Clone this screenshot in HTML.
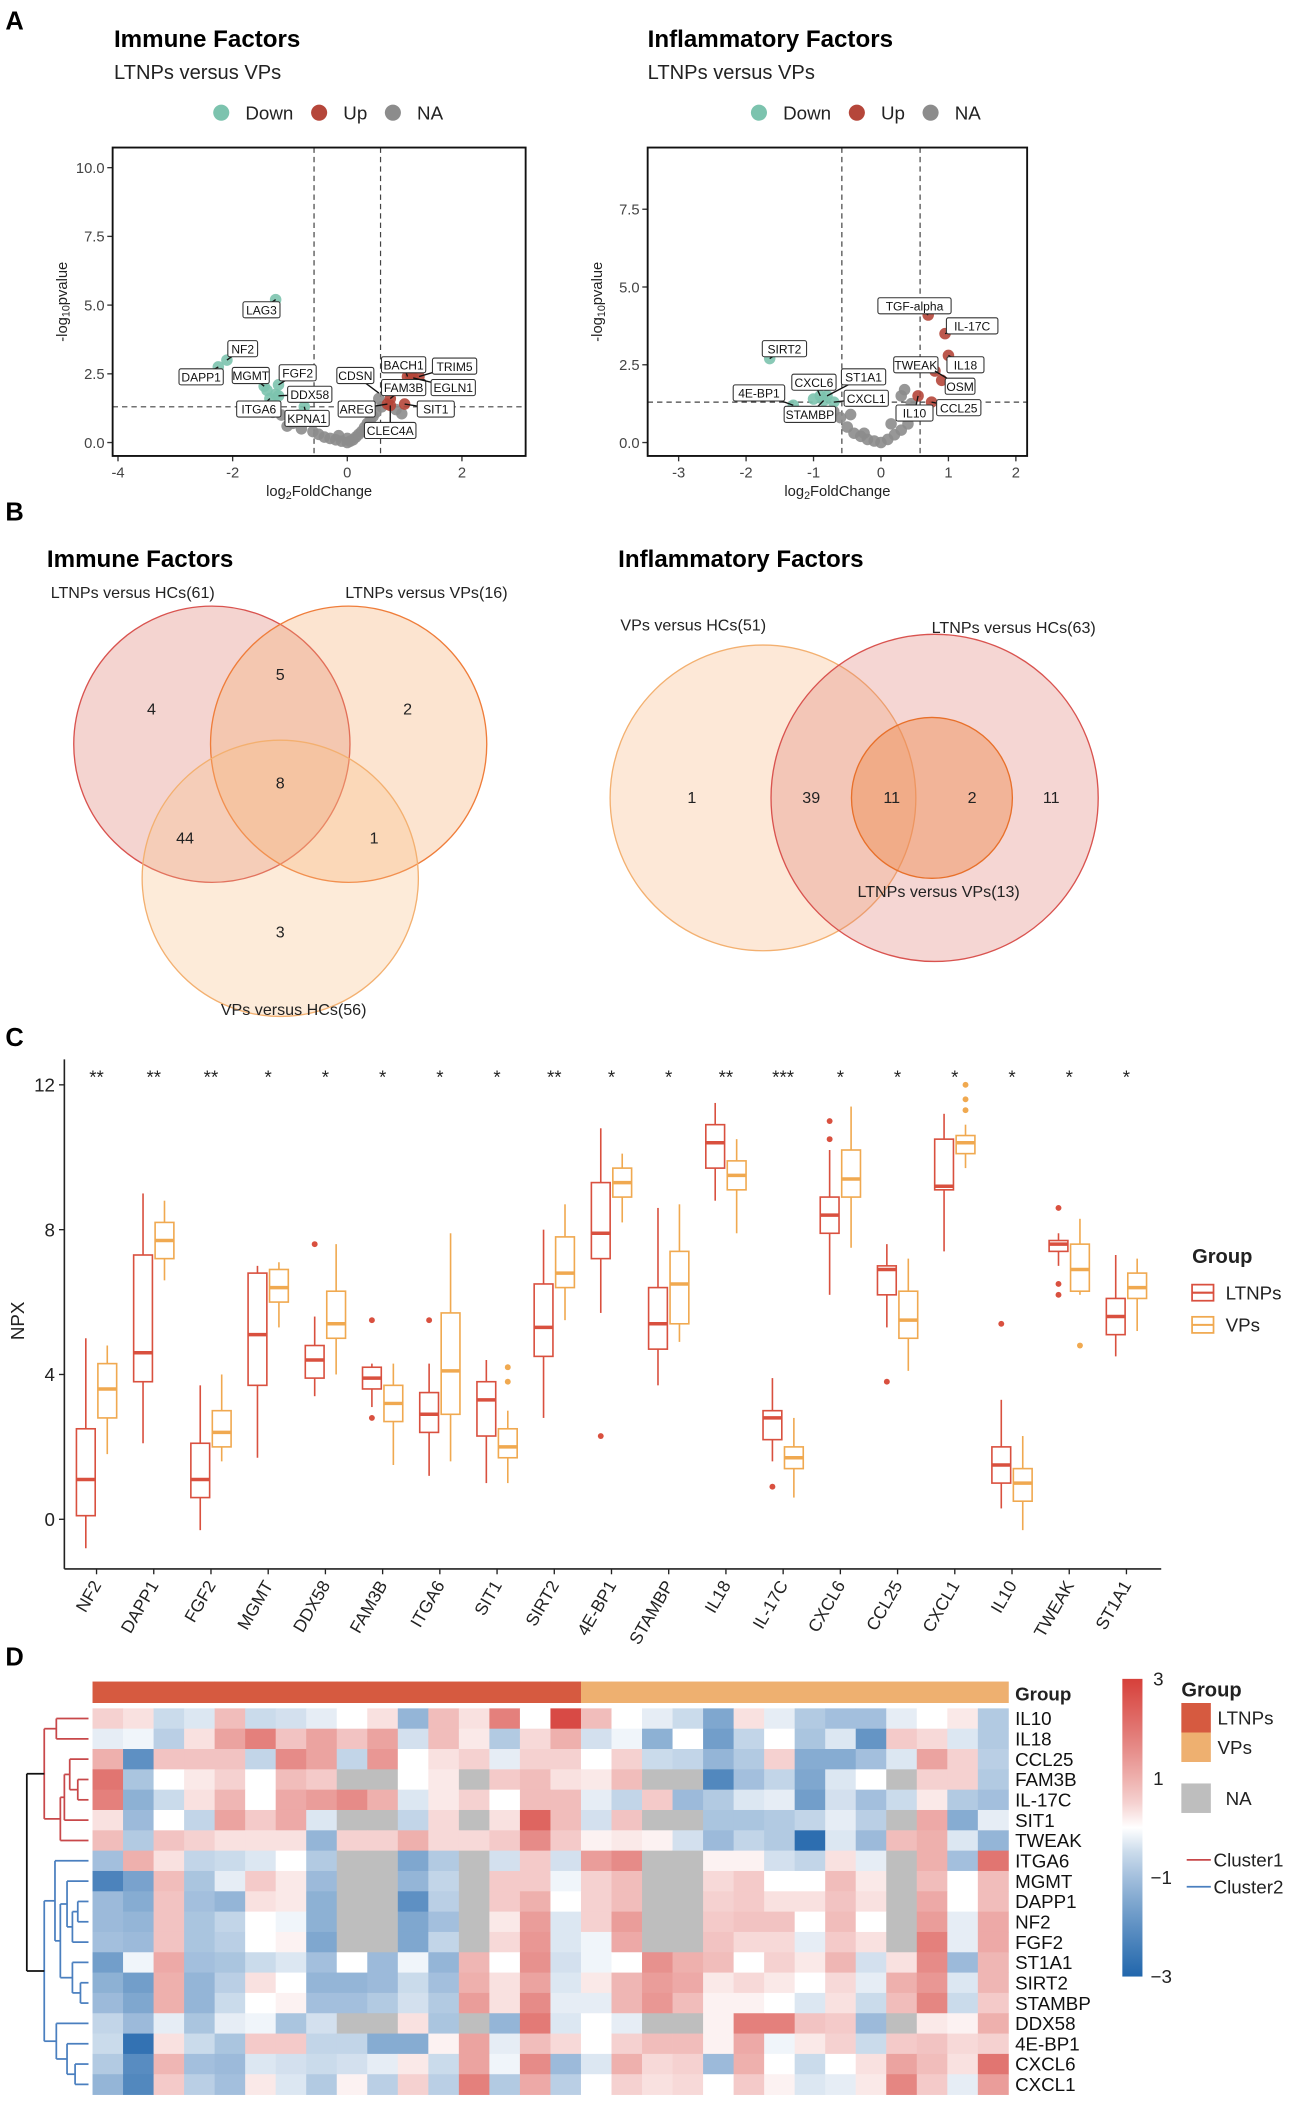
<!DOCTYPE html>
<html><head><meta charset="utf-8"><style>
html,body{margin:0;padding:0;background:#fff}
svg{display:block;font-family:"Liberation Sans",Arial,sans-serif}
</style></head><body>
<svg id="fig" width="1298" height="2108" viewBox="0 0 968 1572" xmlns="http://www.w3.org/2000/svg">
<g id="A">
<text x="4" y="22" font-size="19" font-weight="bold">A</text>
<text x="85" y="35" font-size="18" font-weight="bold">Immune Factors</text>
<text x="85" y="59" font-size="15" fill="#222">LTNPs versus VPs</text>
<text x="483" y="35" font-size="18" font-weight="bold">Inflammatory Factors</text>
<text x="483" y="59" font-size="15" fill="#222">LTNPs versus VPs</text>
</g>
<g id="B">
<text x="4" y="388" font-size="19" font-weight="bold">B</text>
<text x="35" y="423" font-size="18" font-weight="bold">Immune Factors</text>
<text x="461" y="423" font-size="18" font-weight="bold">Inflammatory Factors</text>
<circle cx="158" cy="555" r="103" fill="rgba(222,120,110,0.32)" stroke="#d9534f" stroke-width="1"/>
<circle cx="260" cy="555" r="103" fill="rgba(246,170,110,0.32)" stroke="#ef7d3a" stroke-width="1"/>
<circle cx="209" cy="655" r="103" fill="rgba(248,190,130,0.3)" stroke="#f3b070" stroke-width="1"/>
<g font-size="12" text-anchor="middle" fill="#222">
<text x="99" y="446">LTNPs versus HCs(61)</text>
<text x="318" y="446">LTNPs versus VPs(16)</text>
<text x="219" y="757">VPs versus HCs(56)</text>
<text x="113" y="533">4</text><text x="209" y="507">5</text><text x="304" y="533">2</text>
<text x="209" y="588">8</text><text x="138" y="629">44</text><text x="279" y="629">1</text><text x="209" y="699">3</text>
</g>
<circle cx="569" cy="595" r="114" fill="rgba(248,190,140,0.35)" stroke="#f3b070" stroke-width="1"/>
<circle cx="697" cy="595" r="122" fill="rgba(222,120,110,0.3)" stroke="#d9534f" stroke-width="1"/>
<circle cx="695" cy="595" r="60" fill="rgba(240,140,80,0.45)" stroke="#e8702a" stroke-width="1"/>
<g font-size="12" text-anchor="middle" fill="#222">
<text x="517" y="470">VPs versus HCs(51)</text>
<text x="756" y="472">LTNPs versus HCs(63)</text>
<text x="700" y="669">LTNPs versus VPs(13)</text>
<text x="516" y="599">1</text><text x="605" y="599">39</text><text x="665" y="599">11</text><text x="725" y="599">2</text><text x="784" y="599">11</text>
</g>
</g>
<g id="C">
<text x="4" y="780" font-size="19" font-weight="bold">C</text>
</g>
<g id="D">
<text x="4" y="1242" font-size="19" font-weight="bold">D</text>
</g>
</svg>
<script>
var NS="http://www.w3.org/2000/svg";
var svg=document.getElementById('fig');
function mk(tag,attrs,parent,txt){var e=document.createElementNS(NS,tag);for(var k in attrs)e.setAttribute(k,attrs[k]);if(txt!==undefined)e.textContent=txt;(parent||svg).appendChild(e);return e;}

/* ---------- Panel A data ---------- */
var immDownX=[-1.25,-2.1,-2.25,-1.45,-1.2,-1.2,-1.35,-0.75,-1.4,-1.25];
var immDownY=[5.2,3.0,2.75,2.05,2.1,1.7,1.6,1.3,1.9,1.75];
var immUpX=[1.05,1.25,1.15,0.75,0.7,0.75,1.0,1.1];
var immUpY=[2.4,2.4,2.35,1.6,1.4,1.35,1.4,2.45];
var immNaX=[-1.05,-0.95,-0.85,-0.6,-0.5,-0.4,-0.3,-0.2,-0.1,0,0.05,0.1,0.15,0.2,0.25,0.3,0.35,0.4,0.45,0.5,0.55,-1.3,-1.15,0.95,0.6,0.85,-0.8,-0.65,-0.15,0.0];
var immNaY=[0.6,0.7,1.0,0.4,0.3,0.2,0.15,0.1,0.05,0.0,0.05,0.1,0.2,0.3,0.4,0.55,0.7,0.8,0.95,1.1,1.6,1.1,1.0,1.05,1.3,1.2,0.5,0.8,0.25,0.15];
var immLabels=["LAG3","NF2","DAPP1","MGMT","FGF2","DDX58","ITGA6","KPNA1","CDSN","BACH1","TRIM5","FAM3B","EGLN1","AREG","SIT1","CLEC4A"];
var immLabX=[-1.25,-2.1,-2.25,-1.45,-1.2,-1.2,-1.35,-0.75,0.55,1.05,1.25,0.75,1.15,0.7,1.0,0.75];
var immLabY=[5.2,3.0,2.75,2.05,2.1,1.7,1.6,1.3,1.8,2.4,2.4,1.6,2.35,1.4,1.4,1.35];
var immBoxPos=[[195,231],[181,260],[150,281],[187,280],[222,278],[231,294],[193,305],[229,312],[265,280],[301,272],[339,273],[301,289],[338,289],[266,305],[325,305],[291,321]];

var infDownX=[-1.65,-0.9,-1.3,-0.8,-0.7,-0.85,-1.0];
var infDownY=[2.7,1.5,1.2,1.5,1.3,1.35,1.4];
var infUpX=[0.7,0.95,1.0,0.8,0.7,0.75,0.55,0.9];
var infUpY=[4.1,3.5,2.8,2.3,2.5,1.3,1.5,2.0];
var infNaX=[-0.5,-0.4,-0.3,-0.2,-0.1,0,0.1,0.2,0.3,0.4,0.5,-0.6,-0.7,0.35,0.6,0.45,-0.45,0.15,0.3,-0.25];
var infNaY=[0.5,0.3,0.2,0.1,0.05,0,0.1,0.25,0.4,0.6,0.9,0.8,1.0,1.7,1.0,1.25,0.9,0.6,1.5,0.3];
var infLabels=["TGF-alpha","IL-17C","SIRT2","TWEAK","IL18","ST1A1","CXCL6","OSM","4E-BP1","CXCL1","CCL25","STAMBP","IL10"];
var infLabX=[0.7,0.95,-1.65,0.7,1.0,-0.8,-0.9,0.8,-1.3,-0.7,0.75,-0.85,0.55];
var infLabY=[4.1,3.5,2.7,2.5,2.8,1.5,1.5,2.3,1.2,1.3,1.3,1.35,1.5];
var infBoxPos=[[682,228],[725,243],[585,260],[683,272],[720,272],[644,281],[607,285],[716,288],[566,293],[646,297],[715,304],[604,309],[682,308]];

function volcano(c){
  var g=mk('g',{});
  
  
  var sx=function(v){return c.x0+(v-c.xv0)*c.kx;};
  var sy=function(v){return c.y0-v*c.ky;};
  var lg=[["Down","#7cc3ae"],["Up","#b5463a"],["NA","#8c8c8c"]];
  var lx=c.legX;
  for(var i=0;i<3;i++){
    var cc=mk('circle',{cx:lx[i],cy:84,r:6,fill:lg[i][1]},g);
    
    
    var t=mk('text',{x:lx[i]+18,y:89,'font-size':14,fill:'#222'},g,lg[i][0]);
    
    
  }
  c.yt.forEach(function(v){
    var y=sy(v);
    mk('line',{x1:c.bx-4,x2:c.bx,y1:y,y2:y,stroke:'#333'},g);
    var t=mk('text',{x:c.bx-6,y:y+4,'font-size':11,'text-anchor':'end',fill:'#444'},g,v.toFixed(1));
    
    
  });
  c.xt.forEach(function(v){
    var x=sx(v);
    mk('line',{x1:x,x2:x,y1:c.by2,y2:c.by2+4,stroke:'#333'},g);
    var t=mk('text',{x:x,y:c.by2+16,'font-size':11,'text-anchor':'middle',fill:'#444'},g,v);
    
    
  });
  var yl=mk('text',{transform:'translate('+(c.bx-34)+','+((c.by1+c.by2)/2)+') rotate(-90)','font-size':11,'text-anchor':'middle',fill:'#222'},g);
  yl.innerHTML='-log<tspan font-size="8" dy="2">10</tspan><tspan dy="-2">pvalue</tspan>';
  
  
  var xl=mk('text',{x:(c.bx+c.bx2)/2,y:c.by2+30,'font-size':11,'text-anchor':'middle',fill:'#222'},g);
  xl.innerHTML='log<tspan font-size="8" dy="2">2</tspan><tspan dy="-2">FoldChange</tspan>';
  
  
  [-0.58,0.58].forEach(function(v){mk('line',{x1:sx(v),x2:sx(v),y1:c.by1,y2:c.by2,stroke:'#444','stroke-dasharray':'4,3','stroke-width':0.9},g);});
  mk('line',{x1:c.bx,x2:c.bx2,y1:sy(1.3),y2:sy(1.3),stroke:'#444','stroke-dasharray':'4,3','stroke-width':0.9},g);
  function pts(X,Y,col,nm){for(var i=0;i<X.length;i++){var p=mk('circle',{cx:sx(X[i]),cy:sy(Y[i]),r:4.3,fill:col,'fill-opacity':0.9},g);}}
  pts(c.naX,c.naY,'#8c8c8c','point-na');
  pts(c.dX,c.dY,'#7cc3ae','point-down');
  pts(c.uX,c.uY,'#b5463a','point-up');
  for(var i=0;i<c.labels.length;i++){
    var bp=c.boxPos[i];
    var w=c.labels[i].length*5.4+6;
    mk('line',{x1:sx(c.lx[i]),y1:sy(c.ly[i]),x2:bp[0],y2:bp[1],stroke:'#111','stroke-width':1},g);
    mk('rect',{x:bp[0]-w/2,y:bp[1]-6,width:w,height:12,rx:1.5,fill:'#fff',stroke:'#333','stroke-width':0.8},g);
    var t=mk('text',{x:bp[0],y:bp[1]+3.5,'font-size':9,'text-anchor':'middle',fill:'#111'},g,c.labels[i]);
    
    
  }
  mk('rect',{x:c.bx,y:c.by1,width:c.bx2-c.bx,height:c.by2-c.by1,fill:'none',stroke:'#111','stroke-width':1.4},g);
}
volcano({name:'immune-volcano',legX:[165,238,293],bx:84,bx2:392,by1:110,by2:340,x0:259,xv0:0,kx:42.75,y0:330,ky:20.5,yt:[0,2.5,5,7.5,10],xt:[-4,-2,0,2],
 dX:immDownX,dY:immDownY,uX:immUpX,uY:immUpY,naX:immNaX,naY:immNaY,labels:immLabels,lx:immLabX,ly:immLabY,boxPos:immBoxPos});
volcano({name:'inflam-volcano',legX:[566,639,694],bx:483,bx2:766,by1:110,by2:340,x0:657,xv0:0,kx:50.3,y0:330,ky:23.2,yt:[0,2.5,5,7.5],xt:[-3,-2,-1,0,1,2],
 dX:infDownX,dY:infDownY,uX:infUpX,uY:infUpY,naX:infNaX,naY:infNaY,labels:infLabels,lx:infLabX,ly:infLabY,boxPos:infBoxPos});

/* ---------- Panel C data ---------- */
var cats=["NF2","DAPP1","FGF2","MGMT","DDX58","FAM3B","ITGA6","SIT1","SIRT2","4E-BP1","STAMBP","IL18","IL-17C","CXCL6","CCL25","CXCL1","IL10","TWEAK","ST1A1"];
var stars=["**","**","**","*","*","*","*","*","**","*","*","**","***","*","*","*","*","*","*"];
var ltnpStats=[[-0.8,0.1,1.1,2.5,5.0],[2.1,3.8,4.6,7.3,9.0],[-0.3,0.6,1.1,2.1,3.7],[1.7,3.7,5.1,6.8,7.0],[3.4,3.9,4.4,4.8,5.6],[3.1,3.6,3.9,4.2,4.3],[1.2,2.4,2.9,3.5,4.3],[1.0,2.3,3.3,3.8,4.4],[2.8,4.5,5.3,6.5,8.0],[5.7,7.2,7.9,9.3,10.8],[3.7,4.7,5.4,6.4,8.6],[8.8,9.7,10.4,10.9,11.5],[1.6,2.2,2.8,3.0,3.9],[6.2,7.9,8.4,8.9,10.2],[5.3,6.2,6.9,7.0,7.6],[7.4,9.1,9.2,10.5,11.2],[0.3,1.0,1.5,2.0,3.3],[7.0,7.4,7.6,7.7,7.9],[4.5,5.1,5.6,6.1,7.3]];
var vpStats=[[1.8,2.8,3.6,4.3,4.8],[6.6,7.2,7.7,8.2,8.8],[1.6,2.0,2.4,3.0,4.0],[5.3,6.0,6.4,6.9,7.1],[4.0,5.0,5.4,6.3,7.6],[1.5,2.7,3.2,3.7,4.3],[1.6,2.9,4.1,5.7,7.9],[1.0,1.7,2.0,2.5,3.0],[5.5,6.4,6.8,7.8,8.7],[8.2,8.9,9.3,9.7,10.1],[4.9,5.4,6.5,7.4,8.7],[7.9,9.1,9.5,9.9,10.5],[0.6,1.4,1.7,2.0,2.8],[7.5,8.9,9.4,10.2,11.4],[4.1,5.0,5.5,6.3,7.2],[9.7,10.1,10.4,10.6,10.9],[-0.3,0.5,1.0,1.4,2.3],[6.2,6.3,6.9,7.6,8.3],[5.2,6.1,6.4,6.8,7.2]];
var ltnpOutIdx=[4,5,5,6,9,12,13,13,14,16,17,17,17];
var ltnpOutVal=[7.6,2.8,5.5,5.5,2.3,0.9,11.0,10.5,3.8,5.4,8.6,6.2,6.5];
var vpOutIdx=[7,7,15,15,15,17];
var vpOutVal=[3.8,4.2,11.3,11.6,12.0,4.8];
var npxTicks=[0,4,8,12];

(function(){
  var g=mk('g',{});
  
  
  var X0=72,DX=42.67,Y0=1133,KY=27;
  var sx=function(i){return X0+i*DX;}, sy=function(v){return Y0-v*KY;};
  mk('line',{x1:48,x2:48,y1:790,y2:1170,stroke:'#222','stroke-width':1.2},g);
  mk('line',{x1:48,x2:866,y1:1170,y2:1170,stroke:'#222','stroke-width':1.2},g);
  npxTicks.forEach(function(v){
    mk('line',{x1:44,x2:48,y1:sy(v),y2:sy(v),stroke:'#222'},g);
    var t=mk('text',{x:41,y:sy(v)+5,'font-size':14,'text-anchor':'end',fill:'#222'},g,v);
    
    
  });
  var yt=mk('text',{transform:'translate(18,985) rotate(-90)','font-size':14,'text-anchor':'middle',fill:'#222'},g,'NPX');
  
  
  function box(st,x,col,nm){
    var bw=14;
    mk('line',{x1:x,x2:x,y1:sy(st[0]),y2:sy(st[1]),stroke:col,'stroke-width':1.2},g);
    mk('line',{x1:x,x2:x,y1:sy(st[3]),y2:sy(st[4]),stroke:col,'stroke-width':1.2},g);
    var r=mk('rect',{x:x-bw/2,y:sy(st[3]),width:bw,height:sy(st[1])-sy(st[3]),fill:'#fff',stroke:col,'stroke-width':1.2},g);
    
    
    mk('line',{x1:x-bw/2,x2:x+bw/2,y1:sy(st[2]),y2:sy(st[2]),stroke:col,'stroke-width':2.6},g);
  }
  for(var i=0;i<cats.length;i++){
    var x=sx(i);
    mk('line',{x1:x,x2:x,y1:1170,y2:1174,stroke:'#222'},g);
    box(ltnpStats[i],x-8,'#d9503f','box-ltnps-'+cats[i].toLowerCase());
    box(vpStats[i],x+8,'#f0a950','box-vps-'+cats[i].toLowerCase());
    var t=mk('text',{transform:'translate('+(x+4)+',1182) rotate(-60)','font-size':13,'text-anchor':'end',fill:'#222'},g,cats[i]);
    
    
    var s=mk('text',{x:x,y:808,'font-size':14,'text-anchor':'middle',fill:'#222'},g,stars[i]);
    
    
  }
  for(var j=0;j<ltnpOutIdx.length;j++) mk('circle',{cx:sx(ltnpOutIdx[j])-8,cy:sy(ltnpOutVal[j]),r:2.2,fill:'#d9503f'},g);
  for(var j=0;j<vpOutIdx.length;j++) mk('circle',{cx:sx(vpOutIdx[j])+8,cy:sy(vpOutVal[j]),r:2.2,fill:'#f0a950'},g);
  var lt=mk('text',{x:889,y:942,'font-size':15,'font-weight':'bold',fill:'#222'},g,'Group');
  
  
  [['LTNPs','#d9503f',964],['VPs','#f0a950',988]].forEach(function(e){
    mk('rect',{x:889,y:e[2]-6,width:16,height:12,fill:'#fff',stroke:e[1],'stroke-width':1.3},g);
    mk('line',{x1:889,x2:905,y1:e[2],y2:e[2],stroke:e[1],'stroke-width':1.5},g);
    var t=mk('text',{x:914,y:e[2]+5,'font-size':14,fill:'#222'},g,e[0]);
    
    
  });
})();

/* ---------- Panel D data ---------- */
var hmRows=["IL10","IL18","CCL25","FAM3B","IL-17C","SIT1","TWEAK","ITGA6","MGMT","DAPP1","NF2","FGF2","ST1A1","SIRT2","STAMBP","DDX58","4E-BP1","CXCL6","CXCL1"];
var hmGroups=["L","L","L","L","L","L","L","L","L","L","L","L","L","L","L","L","V","V","V","V","V","V","V","V","V","V","V","V","V","V"];
var N=null;
var hmVals=[
[0.5,0.3,-0.5,-0.3,0.8,-0.5,-0.4,-0.2,0,0.3,-1.2,0.8,0.3,1.8,0,2.8,0.8,0,-0.2,-0.5,-1.5,0.3,-0.2,-0.8,-1,-1,-0.2,0,0.2,-0.8],
[-0.2,-0.1,-0.7,0.3,1.2,1.8,0.7,1.2,0.7,1.2,-0.4,0.8,0.2,-0.8,0.4,1.0,-0.4,-0.1,-1.3,0,-1.7,-0.6,0,-0.9,-0.3,-1.9,0.6,0.4,-0.3,-0.8],
[1,-2,0.7,0.7,0.7,-0.6,1.6,1.2,-0.6,1.4,0,0.3,0.5,-0.2,0.5,0.5,0,0.5,-0.5,-0.6,-1.2,-0.8,0.5,-1.4,-1.4,-1,-0.3,1.2,0.5,-0.7],
[2,-0.9,0,0.2,0.5,0,0.8,0.6,N,N,0,0.2,N,0.6,0.8,0.3,0.2,0.8,N,N,-2.2,-1,-0.6,-1.5,-0.3,0,N,0.5,0.5,-0.8],
[1.8,-1.3,-0.5,0.3,0.9,0,1.1,1.3,1.6,1,-0.3,0.2,0.5,0,0.8,0.8,-0.2,-0.6,0.6,-1.1,-0.8,-0.3,-0.2,-1.7,-0.4,-1,-0.5,0.2,-0.8,-1],
[0.3,-1.1,0,-0.6,1.2,0.6,1.1,-0.3,N,N,-0.6,0.4,N,0.3,2.3,0.8,-0.4,0.7,N,N,-0.9,-0.9,-0.8,-0.6,-0.2,-0.7,N,1.1,-1.4,-0.2],
[0.8,-0.8,0.7,0.5,0.3,0.3,0.3,-1.2,0.5,0.5,1,0.4,0.4,0.6,1.6,0.6,0.1,0.2,0.1,-0.4,-1.1,-0.6,-0.8,-2.8,-0.3,-1.1,0.8,1,-0.3,-1.2],
[-1,1,0.3,-0.6,-0.5,-0.3,0,-0.8,N,N,-1.5,-0.8,N,-0.4,0.6,-0.4,1.3,1.6,N,N,0.1,0.1,-0.4,-0.6,0.3,-0.2,N,1,-1,2],
[-2.3,-1.6,0.8,-0.9,-0.2,0.6,0.2,-1.1,N,N,-1.2,-0.6,N,0.6,0.6,-0.1,0.5,0.8,N,N,0.4,0.6,0,0,0.8,0.2,N,0.8,0,0.8],
[-1.1,-1.4,0.7,-1,-1.2,0.3,0.2,-1.3,N,N,-2,-0.7,N,0.6,1,0,0.5,0.8,N,N,0.5,0.6,0.3,0.3,0.7,0.3,N,1.1,0,0.8],
[-1.1,-1.2,0.7,-0.9,-0.6,0,-0.1,-1.3,N,N,-1.5,-1,N,0.2,1.3,-0.3,0.5,1.3,N,N,0.6,0.7,0.7,0,0.8,0,N,1.3,-0.2,1.1],
[-1,-1.1,0.7,-0.9,-0.7,0,0.1,-1.5,N,N,-1.5,-0.6,N,0.4,1.4,-0.3,-0.1,1.1,N,N,0.7,0.4,0.4,-0.2,0.6,0.3,N,1.8,-0.2,1.1],
[-1.7,-0.1,1.1,-1,-0.9,-0.5,-0.3,-1,0,-1.1,-0.1,-1.2,0.9,0,1.5,-0.4,-0.1,0,1.5,1,0.8,0,0.5,0.2,0.9,-0.4,0.3,1.6,-1.1,0.9],
[-1.3,-1.7,1,-1.2,-0.7,0.3,0,-1.2,-1.2,-1.1,-0.5,-1,1,0.3,1.2,-0.3,0.2,0.9,1.3,1.1,0.2,0.4,0.2,0,0.4,-0.2,1,1.4,-0.3,0.9],
[-1.1,-1.5,1,-1.2,-0.5,0,0.1,-1,-1,-0.8,-0.4,-0.8,1.3,0.3,1.6,-0.2,-0.2,0.9,1.4,0.8,0.1,0.1,0,-0.3,0.3,-0.5,0.8,1.7,-0.5,0.6],
[-0.6,-1.1,-0.2,-0.9,-0.2,-0.1,-0.9,-0.4,N,N,0.3,-0.9,N,-1.2,1.9,-0.3,0,-0.2,N,N,0.1,1.8,1.8,0.7,0.6,-1.1,N,0.2,0.1,1],
[-0.5,-2.7,0.3,-0.5,-0.9,0.6,0.6,-0.6,-0.6,-1.4,-1.4,0.1,1.2,-0.2,0.8,0.4,0,0.5,0.8,0.8,0.1,1.1,-0.1,0.2,0.5,-0.5,0.6,0.7,0.4,0.5],
[-0.8,-2.1,0.9,-1,-1.1,-0.3,-0.4,-0.5,-0.4,-0.2,0.2,-0.5,1.2,-0.1,1.6,-1.1,-0.3,1,0.4,0.5,-1.1,1,0,-0.5,0,0.3,1.2,0.8,0.3,2],
[-1.2,-2.2,0.6,-0.7,-1,0.2,-0.3,-0.8,0.1,-0.7,0.5,-0.7,1.8,-0.8,1.1,-0.7,0,0.5,0.3,0.4,0,0.6,0.1,-0.3,-0.2,0.2,1.7,0.6,-0.2,1.3]];
var scaleTicks=[3,1,-1,-3];

function hmColor(v){
  if(v===null) return '#bebebe';
  var t=Math.max(-1,Math.min(1,v/3));
  var a,b;
  if(t>=0){a=[255,255,255];b=[214,64,58];}else{a=[255,255,255];b=[33,102,172];t=-t;}
  var c=a.map(function(x,i){return Math.round(x+(b[i]-x)*Math.pow(t,0.8));});
  return 'rgb('+c.join(',')+')';
}
(function(){
  var g=mk('g',{});
  
  
  var X0=69,X1=752,Y0=1274,Y1=1562;
  var cw=(X1-X0)/hmGroups.length, rh=(Y1-Y0)/hmRows.length;
  for(var j=0;j<hmGroups.length;j++){
    mk('rect',{x:X0+j*cw,y:1254,width:cw+0.3,height:16,fill:hmGroups[j]==='L'?'#d65a40':'#eeb070'},g);
  }
  var gl=mk('text',{x:757,y:1268,'font-size':14,'font-weight':'bold',fill:'#222'},g,'Group');
  
  
  for(var i=0;i<hmRows.length;i++){
    for(var j=0;j<hmGroups.length;j++){
      var r=mk('rect',{x:X0+j*cw,y:Y0+i*rh,width:cw+0.3,height:rh+0.3,fill:hmColor(hmVals[i][j])},g);
      
      
    }
    var t=mk('text',{x:757,y:Y0+(i+0.5)*rh+5,'font-size':14,fill:'#111'},g,hmRows[i]);
    
    
  }
  function ry(i){return Y0+(i+0.5)*rh;}
  var red='#c8484a',blue='#4a7fbf';
  function seg(x1,y1,x2,y2,c){mk('line',{x1:x1,y1:y1,x2:x2,y2:y2,stroke:c,'stroke-width':1.3},g);}
  function merge(xm,ya,xa,yb,xb,c){seg(xa,ya,xm,ya,c);seg(xb,yb,xm,yb,c);seg(xm,ya,xm,yb,c);return [(ya+yb)/2,xm];}
  var L=66;
  var a=merge(42,ry(0),L,ry(1),L,red);
  var b=merge(58,ry(3),L,ry(4),L,red);
  var c=merge(52,b[0],b[1],ry(2),L,red);
  var d=merge(48,c[0],c[1],ry(5),L,red);
  var e=merge(45,d[0],d[1],ry(6),L,red);
  var R=merge(33,a[0],a[1],e[0],e[1],red);
  var f=merge(58,ry(9),L,ry(10),L,blue);
  var h=merge(54,f[0],f[1],ry(11),L,blue);
  var k=merge(50,h[0],h[1],ry(8),L,blue);
  var m=merge(60,ry(13),L,ry(14),L,blue);
  var n=merge(54,m[0],m[1],ry(12),L,blue);
  var o=merge(45,k[0],k[1],n[0],n[1],blue);
  var p=merge(41,ry(7),L,o[0],o[1],blue);
  var q=merge(56,ry(17),L,ry(18),L,blue);
  var s=merge(50,ry(16),L,q[0],q[1],blue);
  var u=merge(42,ry(15),L,s[0],s[1],blue);
  var B=merge(33,p[0],p[1],u[0],u[1],blue);
  merge(20,R[0],33,B[0],33,'#111');
  var grad=mk('linearGradient',{id:'hmgrad',x1:0,y1:0,x2:0,y2:1},mk('defs',{},g));
  for(var z=0;z<=12;z++){mk('stop',{offset:(z/12),'stop-color':hmColor(3-z*0.5)},grad);}
  var cb=mk('rect',{x:837,y:1252,width:15,height:222,fill:'url(#hmgrad)'},g);
  
  
  scaleTicks.forEach(function(v){
    var y=1252+(3-v)/6*222;
    var t=mk('text',{x:v<0?858:860,y:y+5,'font-size':14,fill:'#222'},g,(v<0?'\u2212':'')+Math.abs(v));
    
    
  });
  var lt=mk('text',{x:881,y:1265,'font-size':15,'font-weight':'bold',fill:'#222'},g,'Group');
  
  
  mk('rect',{x:881,y:1270,width:22,height:22,fill:'#d65a40'},g);
  mk('rect',{x:881,y:1292,width:22,height:22,fill:'#eeb070'},g);
  mk('rect',{x:881,y:1330,width:22,height:22,fill:'#bebebe'},g);
  [['LTNPs',1286],['VPs',1308],['NA',1346]].forEach(function(e){
    var t=mk('text',{x:e[0]==='NA'?914:908,y:e[1],'font-size':14,fill:'#222'},g,e[0]);
    
    
  });
  seg(885,1387,903,1387,red);seg(885,1407,903,1407,blue);
  var c1=mk('text',{x:905,y:1392,'font-size':14,fill:'#222'},g,'Cluster1');
  
  
  var c2=mk('text',{x:905,y:1412,'font-size':14,fill:'#222'},g,'Cluster2');
  
  
})();
</script>
</body></html>
